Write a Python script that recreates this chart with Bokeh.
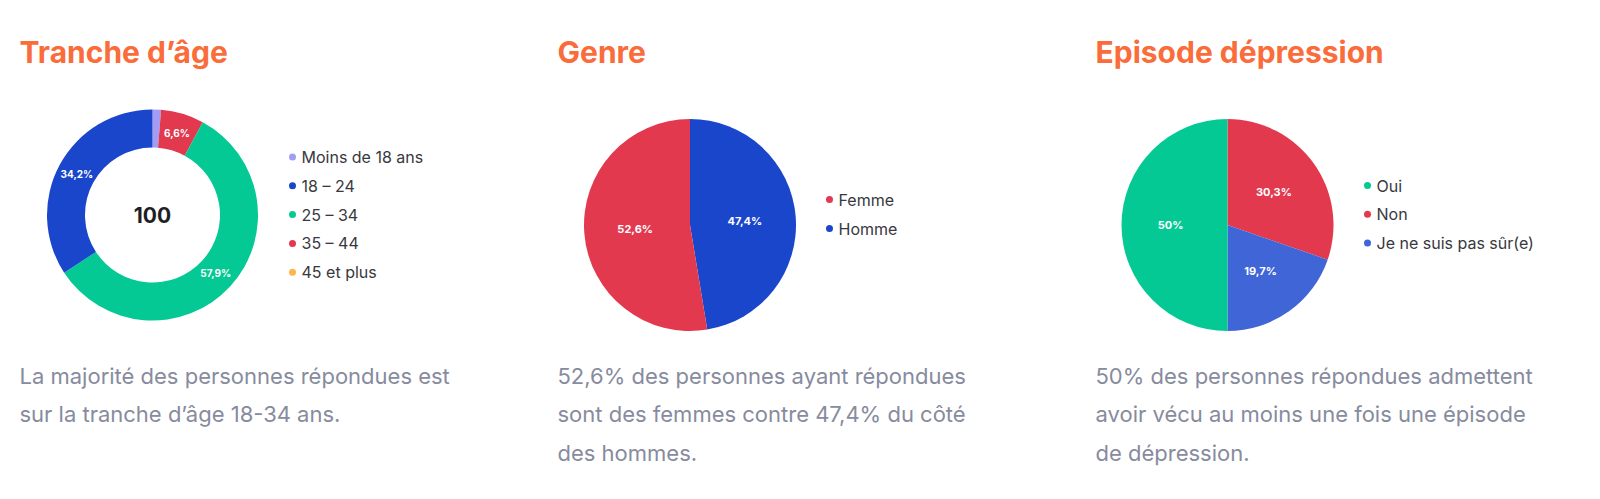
from math import pi, cos, sin
from bokeh.core.properties import value
from bokeh.embed import file_html
from bokeh.models import ColumnDataSource, Range1d
from bokeh.plotting import figure
from bokeh.resources import INLINE

# --- data ---------------------------------------------------------------
titles = ["Tranche d’âge", "Genre", "Episode dépression"]

age_labels = ["Moins de 18 ans", "18 – 24", "25 – 34", "35 – 44", "45 et plus"]
age_values = [1.3, 34.2, 57.9, 6.6, 0.0]
age_colors = ["#A39CF4", "#1A46CC", "#05C994", "#E2394F", "#FFB547"]
age_order = [0, 3, 2, 1, 4]          # clockwise order from the top
age_total = "100"

genre_labels = ["Femme", "Homme"]
genre_values = [52.6, 47.4]
genre_colors = ["#E2394F", "#1A46CC"]
genre_order = [1, 0]

dep_labels = ["Oui", "Non", "Je ne suis pas sûr(e)"]
dep_values = [50.0, 30.3, 19.7]
dep_colors = ["#05C994", "#E2394F", "#4065D6"]
dep_order = [1, 2, 0]

texts = [
    ["La majorité des personnes répondues est",
     "sur la tranche d’âge 18-34 ans."],
    ["52,6% des personnes ayant répondues",
     "sont des femmes contre 47,4% du côté",
     "des hommes."],
    ["50% des personnes répondues admettent",
     "avoir vécu au moins une fois une épisode",
     "de dépression."],
]

W, H = 1596, 495
FONT = "Inter"


def fy(page_y):
    # page pixel row -> plot y (the page template has no margin)
    return H - page_y


def fx(page_x):
    return page_x


def fmt(v):
    s = ("%.1f" % v).replace(".", ",")
    return s[:-2] if s.endswith(",0") else s


def slices(values, colors, order, cx, cy, label_r):
    total = float(sum(values))
    xs, ys, starts, ends, cols, lx, ly, lt = [], [], [], [], [], [], [], []
    cum = 0.0
    for i in order:
        a0 = pi / 2 - 2 * pi * cum / total
        cum += values[i]
        a1 = pi / 2 - 2 * pi * cum / total
        if values[i] <= 0:
            continue
        xs.append(cx)
        ys.append(cy)
        starts.append(a1)
        ends.append(a0)
        cols.append(colors[i])
        mid = (a0 + a1) / 2
        if values[i] >= 5:
            lx.append(cx + label_r * cos(mid))
            ly.append(cy + label_r * sin(mid))
            lt.append(fmt(values[i]) + "%")
    wedges = ColumnDataSource(dict(x=xs, y=ys, start=starts, end=ends, color=cols))
    labels = ColumnDataSource(dict(x=lx, y=ly, text=lt))
    return wedges, labels


p = figure(width=W, height=H, output_backend="svg", toolbar_location=None,
           x_range=Range1d(0, W), y_range=Range1d(0, H),
           x_axis_location=None, y_axis_location=None, min_border=0)
p.grid.visible = False
p.outline_line_color = None
p.background_fill_color = "white"
p.border_fill_color = "white"

# titles
col_x = [19, 557, 1095]
p.text(x=[fx(x) for x in col_x], y=[fy(51)] * 3, text=titles,
       text_font=value(FONT), text_font_style="bold", text_font_size="30px",
       text_color="#FA6C3A", text_baseline="middle")

# donut - tranche d'age
cx, cy = fx(152), fy(214.5)
w1, l1 = slices(age_values, age_colors, age_order, cx, cy, 86)
p.annular_wedge(x="x", y="y", inner_radius=67.5, outer_radius=105.5,
                start_angle="start", end_angle="end", fill_color="color",
                line_color=None, source=w1)
p.text(x="x", y="y", text="text", source=l1, text_font=value(FONT),
       text_font_style="bold", text_font_size="10px", text_color="white",
       text_align="center", text_baseline="middle")
p.text(x=[cx], y=[cy], text=[age_total], text_font=value(FONT),
       text_font_style="bold", text_font_size="21px", text_color="#1E1E24",
       text_align="center", text_baseline="middle")

# pie - genre
cx2, cy2 = fx(689.5), fy(224.5)
w2, l2 = slices(genre_values, genre_colors, genre_order, cx2, cy2, 55)
p.wedge(x="x", y="y", radius=106, start_angle="start", end_angle="end",
        fill_color="color", line_color=None, source=w2)
p.text(x="x", y="y", text="text", source=l2, text_font=value(FONT),
       text_font_style="bold", text_font_size="11px", text_color="white",
       text_align="center", text_baseline="middle")

# pie - episode depression
cx3, cy3 = fx(1227), fy(224.5)
w3, l3 = slices(dep_values, dep_colors, dep_order, cx3, cy3, 57)
p.wedge(x="x", y="y", radius=106, start_angle="start", end_angle="end",
        fill_color="color", line_color=None, source=w3)
p.text(x="x", y="y", text="text", source=l3, text_font=value(FONT),
       text_font_style="bold", text_font_size="11px", text_color="white",
       text_align="center", text_baseline="middle")


# legends
def legend(labels, colors, mx, y0, step):
    ys = [fy(y0 + k * step) for k in range(len(labels))]
    p.scatter(x=[fx(mx)] * len(labels), y=ys, size=7, fill_color=colors,
              line_color=None, marker="circle")
    p.text(x=[fx(mx + 9)] * len(labels), y=ys, text=labels,
           text_font=value(FONT), text_font_size="16px", text_color="#38383E",
           text_align="left", text_baseline="middle")


legend(age_labels, age_colors, 292, 156.5, 28.8)
legend(genre_labels, genre_colors, 829, 199, 29)
legend(dep_labels, dep_colors, 1367, 185, 28.7)

# descriptive texts
for x0, lines in zip(col_x, texts):
    p.text(x=[fx(x0)] * len(lines), y=[fy(375 + k * 38.7) for k in range(len(lines))],
           text=lines, text_font=value(FONT), text_font_size="22px",
           text_color="#878B9E", text_baseline="middle")

open("out.html", "w").write(file_html(p, INLINE))
